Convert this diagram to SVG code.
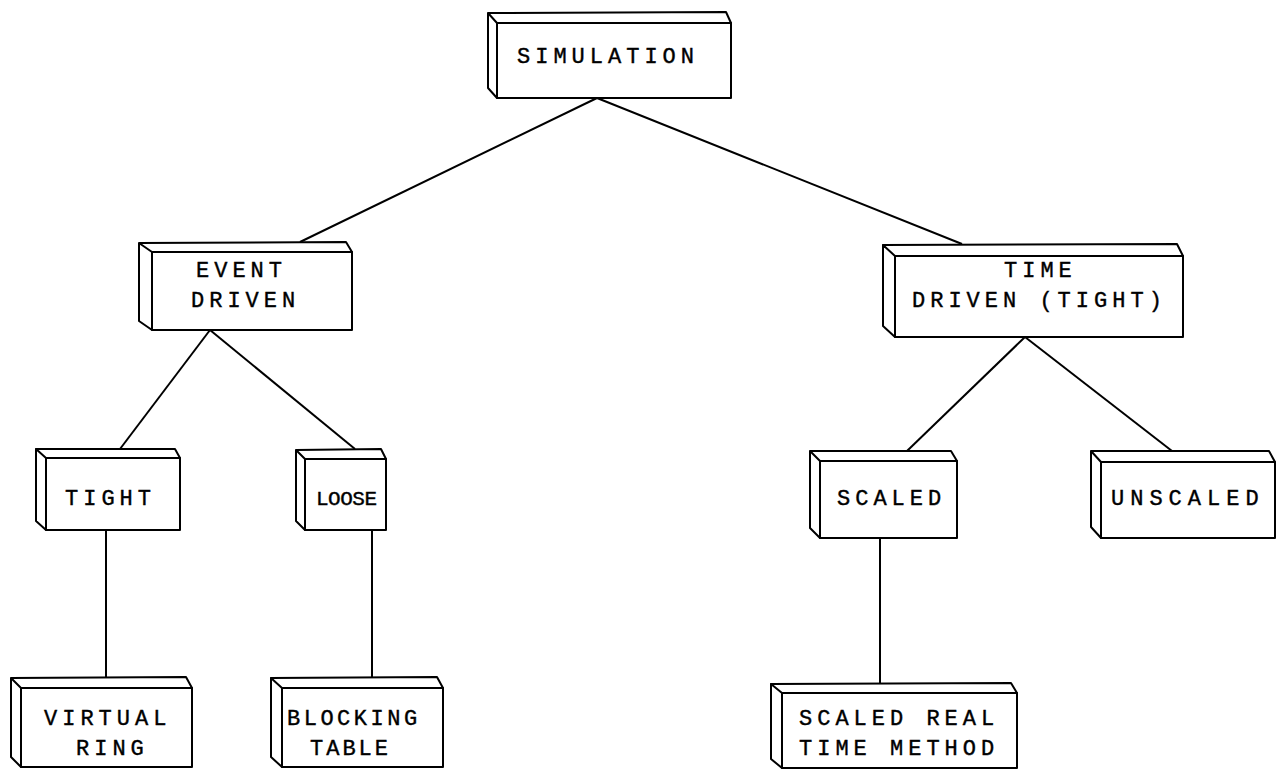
<svg xmlns="http://www.w3.org/2000/svg" width="1281" height="770" viewBox="0 0 1281 770">
<style>
.b{fill:#fff;stroke:#000;stroke-width:2;stroke-linejoin:round}
.c{stroke:#000;stroke-width:2;fill:none}
text{font-family:"Liberation Mono","DejaVu Sans Mono",monospace;font-size:22px;letter-spacing:5px;fill:#000;stroke:#000;stroke-width:0.4}
</style>
<rect width="1281" height="770" fill="#fff"/>
<g id="connectors">
<line class="c" x1="597" y1="98" x2="300" y2="242"/>
<line class="c" x1="597" y1="98" x2="962" y2="244"/>
<line class="c" x1="210" y1="330" x2="120" y2="449"/>
<line class="c" x1="210" y1="330" x2="355" y2="449"/>
<line class="c" x1="1025" y1="337" x2="907" y2="451"/>
<line class="c" x1="1025" y1="337" x2="1172" y2="451"/>
<line class="c" x1="106" y1="530" x2="106" y2="677"/>
<line class="c" x1="372" y1="530" x2="372" y2="677"/>
<line class="c" x1="880" y1="538" x2="880" y2="683"/>
</g>
<g id="simulation">
<path class="b" d="M497,23 L488,13 L726,12 L731,23 Z M497,23 L488,13 L488,88 L497,98 Z"/>
<rect class="b" x="497" y="23" width="234" height="75"/>
<text x="517" y="63">SIMULATION</text>
</g>
<g id="event-driven">
<path class="b" d="M152,252 L139,243 L346,242 L352,252 Z M152,252 L139,243 L139,321 L152,330 Z"/>
<rect class="b" x="152" y="252" width="200" height="78"/>
<text x="196" y="277">EVENT</text>
<text x="191" y="307">DRIVEN</text>
</g>
<g id="time-driven">
<path class="b" d="M895,256 L883,245 L1177,244 L1183,256 Z M895,256 L883,245 L883,326 L895,337 Z"/>
<rect class="b" x="895" y="256" width="288" height="81"/>
<text x="1004" y="277">TIME</text>
<text x="912" y="307">DRIVEN (TIGHT)</text>
</g>
<g id="tight">
<path class="b" d="M46,458 L36,449 L175,449 L180,458 Z M46,458 L36,449 L36,521 L46,530 Z"/>
<rect class="b" x="46" y="458" width="134" height="72"/>
<text x="65" y="505">TIGHT</text>
</g>
<g id="loose">
<path class="b" d="M305,459 L296,450 L381,449 L386,459 Z M305,459 L296,450 L296,521 L305,530 Z"/>
<rect class="b" x="305" y="459" width="81" height="71"/>
<text x="316" y="505" style="font-size:21px;letter-spacing:-0.5px">LOOSE</text>
</g>
<g id="scaled">
<path class="b" d="M820,461 L810,451 L951,451 L957,461 Z M820,461 L810,451 L810,528 L820,538 Z"/>
<rect class="b" x="820" y="461" width="137" height="77"/>
<text x="837" y="505">SCALED</text>
</g>
<g id="unscaled">
<path class="b" d="M1101,462 L1091,451 L1269,451 L1275,462 Z M1101,462 L1091,451 L1091,527 L1101,538 Z"/>
<rect class="b" x="1101" y="462" width="174" height="76"/>
<text x="1111" y="505" style="letter-spacing:6px">UNSCALED</text>
</g>
<g id="virtual-ring">
<path class="b" d="M21,688 L11,678 L186,677 L192,688 Z M21,688 L11,678 L11,757 L21,767 Z"/>
<rect class="b" x="21" y="688" width="171" height="79"/>
<text x="44" y="725">VIRTUAL</text>
<text x="76" y="755">RING</text>
</g>
<g id="blocking-table">
<path class="b" d="M282,688 L271,678 L437,677 L443,688 Z M282,688 L271,678 L271,757 L282,767 Z"/>
<rect class="b" x="282" y="688" width="161" height="79"/>
<text x="287" y="725" style="letter-spacing:3.5px">BLOCKING</text>
<text x="310" y="755" style="letter-spacing:3px">TABLE</text>
</g>
<g id="scaled-real-time">
<path class="b" d="M782,693 L771,684 L1011,683 L1017,693 Z M782,693 L771,684 L771,759 L782,768 Z"/>
<rect class="b" x="782" y="693" width="235" height="75"/>
<text x="799" y="725">SCALED REAL</text>
<text x="799" y="755">TIME METHOD</text>
</g>
</svg>
